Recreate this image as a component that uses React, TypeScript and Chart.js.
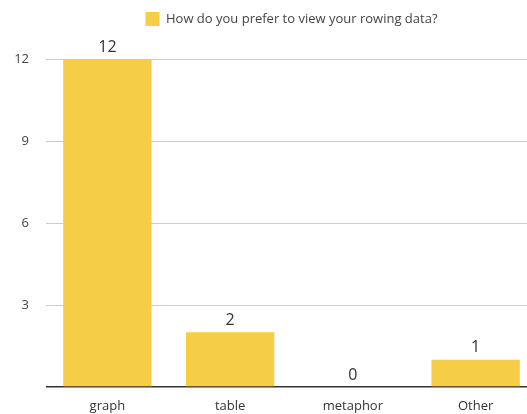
import React, { useEffect, useRef } from "react";
import { Chart, registerables } from "chart.js";

Chart.register(...registerables);

const categories = ["graph", "table", "metaphor", "Other"];
const responses = [12, 2, 0, 1];
const seriesLabel = "How do you prefer to view your rowing data?";
const yTicks = [0, 3, 6, 9, 12];

const FONT = "'Open Sans', 'Noto Sans', sans-serif";
const BAR_COLOR = "#F6CD46";

// Writes each bar's value just above it.
const valueLabels = {
  id: "valueLabels",
  afterDatasetsDraw(chart: any) {
    const { ctx } = chart;
    const meta = chart.getDatasetMeta(0);
    ctx.save();
    ctx.font = `16px ${FONT}`;
    ctx.fillStyle = "#333333";
    ctx.textAlign = "center";
    ctx.textBaseline = "middle";
    meta.data.forEach((bar: any, i: number) => {
      ctx.fillText(String(responses[i]), bar.x, bar.y - 12);
    });
    ctx.restore();
  },
};

// Leaves room between the legend and the plot for the value labels.
const legendSpacing = {
  id: "legendSpacing",
  beforeInit(chart: any) {
    const origFit = chart.legend.fit;
    chart.legend.fit = function () {
      origFit.bind(chart.legend)();
      this.height += 23;
    };
  },
};

export default function App() {
  const canvasRef = useRef<HTMLCanvasElement | null>(null);

  useEffect(() => {
    const chart = new Chart(canvasRef.current!, {
      type: "bar",
      data: {
        labels: categories,
        datasets: [
          {
            label: seriesLabel,
            data: responses,
            backgroundColor: BAR_COLOR,
            borderWidth: 0,
            categoryPercentage: 1,
            barPercentage: 0.72,
          },
        ],
      },
      options: {
        animation: false,
        responsive: false,
        devicePixelRatio: 1,
        layout: { padding: { left: 0, right: 0, top: 2, bottom: 0 } },
        plugins: {
          legend: {
            position: "top",
            fullSize: false,
            labels: {
              boxWidth: 14,
              boxHeight: 14,
              padding: 10,
              color: "#444444",
              font: { family: FONT, size: 13 },
            },
          },
          tooltip: { enabled: false },
        },
        scales: {
          x: {
            grid: { display: false, drawTicks: false },
            border: { display: false },
            afterFit(axis: any) {
              axis.height = 27;
            },
            ticks: {
              color: "#333333",
              padding: 11,
              font: { family: FONT, size: 13 },
            },
          },
          y: {
            min: 0,
            max: 12,
            afterBuildTicks(axis: any) {
              axis.ticks = yTicks.map((v) => ({ value: v }));
            },
            afterFit(axis: any) {
              axis.width = 46;
            },
            grid: {
              drawTicks: false,
              color: (c: any) => (c.tick && c.tick.value === 0 ? "#333333" : "#CCCCCC"),
              lineWidth: (c: any) => (c.tick && c.tick.value === 0 ? 1.5 : 1),
            },
            border: { display: false },
            ticks: {
              color: "#444444",
              padding: 17,
              font: { family: FONT, size: 13 },
              callback: (v: any) => (v === 0 ? "" : String(v)),
            },
          },
        },
      },
      plugins: [valueLabels, legendSpacing],
    });
    return () => chart.destroy();
  }, []);

  return (
    <div
      style={{
        position: "fixed",
        left: 0,
        top: 0,
        width: 527,
        height: 414,
        overflow: "hidden",
        background: "#ffffff",
      }}
    >
      <canvas ref={canvasRef} width={537} height={414} style={{ display: "block" }} />
    </div>
  );
}
